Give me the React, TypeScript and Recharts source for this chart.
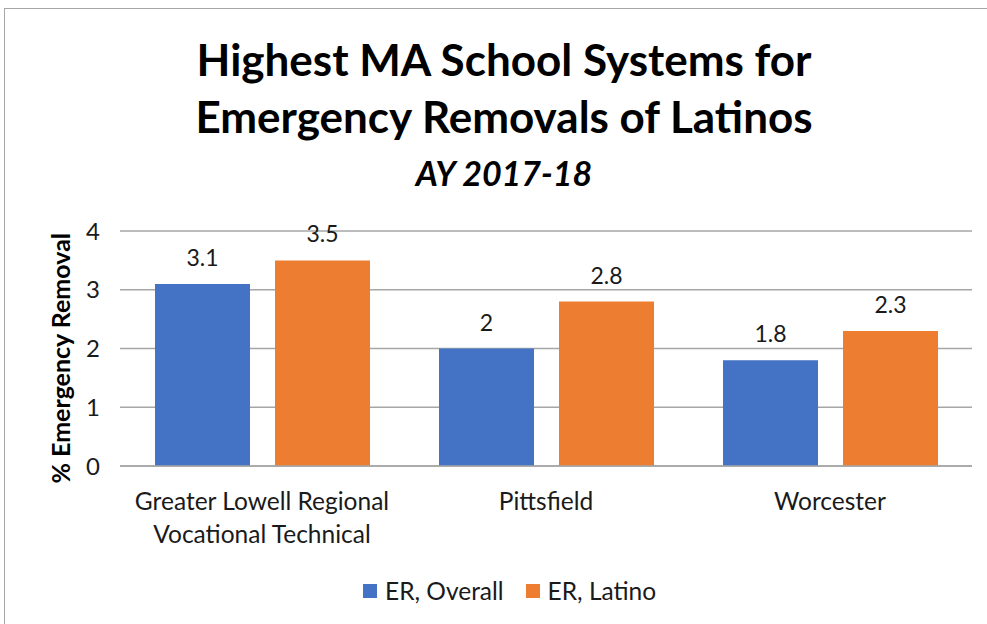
import { Bar, BarChart, CartesianGrid, LabelList, XAxis, YAxis } from "recharts";

const categories = ["Greater Lowell Regional\nVocational Technical", "Pittsfield", "Worcester"];
const overall = [3.1, 2, 1.8];
const latino = [3.5, 2.8, 2.3];
const yTicks = [0, 1, 2, 3, 4];

const data = categories.map((name, i) => ({
  name,
  overall: overall[i],
  latino: latino[i],
}));

const FONT = "Lato, 'Open Sans', sans-serif";
const BLUE = "#4472C4";
const ORANGE = "#ED7D31";

function CategoryTick(props: any) {
  const { x, y, payload } = props;
  const lines = String(payload.value).split("\n");
  return (
    <text x={x} y={y} textAnchor="middle" fill="#1a1a1a" fontSize={24.5} fontFamily={FONT}>
      {lines.map((line, i) => (
        <tspan key={i} x={x} dy={i === 0 ? 36 : 33}>
          {line}
        </tspan>
      ))}
    </text>
  );
}

export default function App() {
  return (
    <div
      style={{
        position: "fixed",
        left: 0,
        top: 0,
        width: 987,
        height: 624,
        background: "#fff",
        overflow: "hidden",
        fontFamily: FONT,
      }}
    >
      <div
        style={{
          position: "absolute",
          left: 4,
          top: 8,
          width: 1000,
          height: 640,
          border: "1px solid #a6a6a6",
        }}
      />
      <div
        style={{
          position: "absolute",
          left: 0,
          top: 31,
          width: 1008,
          textAlign: "center",
          fontWeight: 700,
          fontSize: 44,
          lineHeight: "57px",
          color: "#000",
        }}
      >
        <div>Highest MA School Systems for</div>
        <div>Emergency Removals of Latinos</div>
        <div style={{ fontStyle: "italic", fontSize: 34, lineHeight: "40px", marginTop: 8 }}>AY 2017-18</div>
      </div>
      <div style={{ position: "absolute", left: 0, top: 0 }}>
        <BarChart
          width={987}
          height={624}
          data={data}
          margin={{ top: 231, right: 15, bottom: 68, left: 40 }}
          barCategoryGap={35}
          barGap={25}
        >
          <CartesianGrid vertical={false} stroke="#a6a6a6" strokeWidth={1.3} />
          <XAxis
            dataKey="name"
            tick={<CategoryTick />}
            tickLine={false}
            axisLine={{ stroke: "#a6a6a6", strokeWidth: 1.3 }}
            height={90}
            interval={0}
          />
          <YAxis
            domain={[0, 4]}
            ticks={yTicks}
            tickLine={false}
            axisLine={false}
            width={80}
            tick={{ fontSize: 24, fill: "#1a1a1a", fontFamily: FONT }}
            tickMargin={14}
            label={{
              value: "% Emergency Removal",
              angle: -90,
              position: "insideLeft",
              dx: 16,
              dy: 135,
              style: { fontSize: 25, fontWeight: 700, fill: "#000", fontFamily: FONT },
            }}
          />
          <Bar dataKey="overall" fill={BLUE} isAnimationActive={false}>
            <LabelList
              dataKey="overall"
              position="top"
              offset={18}
              style={{ fontSize: 23, fill: "#1a1a1a", fontFamily: FONT }}
            />
          </Bar>
          <Bar dataKey="latino" fill={ORANGE} isAnimationActive={false}>
            <LabelList
              dataKey="latino"
              position="top"
              offset={18}
              style={{ fontSize: 23, fill: "#1a1a1a", fontFamily: FONT }}
            />
          </Bar>
        </BarChart>
      </div>
      <div
        style={{
          position: "absolute",
          left: 363,
          top: 576,
          display: "flex",
          alignItems: "center",
          fontSize: 24.5,
          color: "#1a1a1a",
        }}
      >
        <span style={{ width: 14, height: 14, background: BLUE, marginRight: 8 }} />
        <span style={{ marginRight: 22 }}>ER, Overall</span>
        <span style={{ width: 14, height: 14, background: ORANGE, marginRight: 8 }} />
        <span>ER, Latino</span>
      </div>
    </div>
  );
}
